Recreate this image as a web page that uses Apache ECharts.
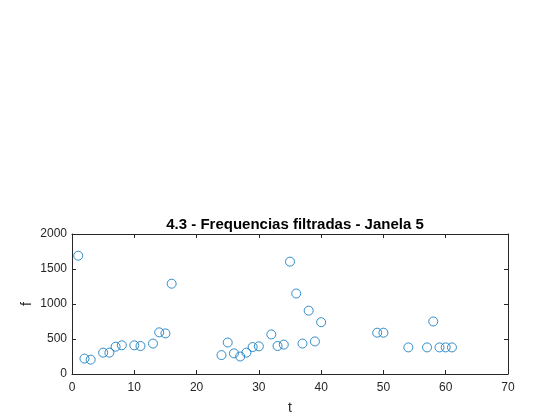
<!DOCTYPE html>
<html>
<head>
<meta charset="utf-8"/>
<title>Frequencias filtradas</title>
<script src="https://cdn.jsdelivr.net/npm/echarts@6/dist/echarts.min.js"></script>
<style>
  html, body { margin: 0; padding: 0; background: #fff; }
  #main { width: 560px; height: 420px; }
</style>
</head>
<body>
<div id="main"></div>
<script type="text/javascript">
// amostras (t) e frequencias filtradas (f)
var tValues = [1, 2, 3, 5, 6, 7, 8, 10, 11, 13, 14, 15, 16,
               24, 25, 26, 27, 28, 29, 30, 32, 33, 34, 35, 36, 37, 38, 39, 40,
               49, 50, 54, 57, 58, 59, 60, 61];
var fValues = [1690, 220, 205, 305, 305, 390, 410, 410, 400, 435, 595, 580, 1290,
               270, 450, 295, 250, 305, 385, 395, 565, 400, 420, 1605, 1150, 435, 905, 465, 740,
               590, 590, 380, 380, 750, 380, 380, 380];
var xTicks = [0, 10, 20, 30, 40, 50, 60, 70];
var yTicks = [0, 500, 1000, 1500, 2000];

var points = tValues.map(function (t, i) { return [t, fValues[i]]; });

var axisColor = '#262626';
var fontFam = 'Liberation Sans, Arial, sans-serif';

function xAx(pos, labels) {
  return {
    type: 'value', position: pos,
    min: xTicks[0], max: xTicks[xTicks.length - 1], interval: 10,
    name: labels ? 't' : '', nameLocation: 'middle', nameGap: 27,
    nameMoveOverlap: false,
    nameTextStyle: { color: axisColor, fontSize: 14, fontFamily: fontFam },
    axisLine: { show: true, onZero: false, lineStyle: { color: axisColor, width: 1 } },
    axisTick: { show: true, inside: true, length: 4, lineStyle: { color: axisColor } },
    axisLabel: { show: labels, color: axisColor, fontSize: 12, fontFamily: fontFam, margin: 8,
                 formatter: function (v) { return String(v); } },
    splitLine: { show: false }
  };
}
function yAx(pos, labels) {
  return {
    type: 'value', position: pos,
    min: yTicks[0], max: yTicks[yTicks.length - 1], interval: 500,
    name: labels ? 'f' : '', nameLocation: 'middle', nameGap: 38,
    nameMoveOverlap: false,
    nameTextStyle: { color: axisColor, fontSize: 14, fontFamily: fontFam },
    axisLine: { show: true, onZero: false, lineStyle: { color: axisColor, width: 1 } },
    axisTick: { show: true, inside: true, length: 4, lineStyle: { color: axisColor } },
    axisLabel: { show: labels, color: axisColor, fontSize: 12, fontFamily: fontFam, margin: 5,
                 formatter: function (v) { return String(v); } },
    splitLine: { show: false }
  };
}

var chart = echarts.init(document.getElementById('main'), null, { renderer: 'canvas' });
var option = {
  backgroundColor: '#ffffff',
  animation: false,
  title: {
    text: '4.3 - Frequencias filtradas - Janela 5',
    left: 290, top: 212, textAlign: 'center',
    textStyle: { color: '#000', fontSize: 15, fontWeight: 'bold', fontFamily: fontFam }
  },
  grid: { left: 72, right: 52, top: 234, bottom: 46 },
  xAxis: [xAx('bottom', true), xAx('top', false)],
  yAxis: [yAx('left', true), yAx('right', false)],
  series: [{
    type: 'scatter',
    xAxisIndex: 0, yAxisIndex: 0,
    data: points,
    symbol: 'circle',
    symbolSize: 9,
    itemStyle: { color: 'rgba(0,0,0,0)', borderColor: '#0072BD', borderWidth: 1 }
  }]
};
chart.setOption(option);
</script>
</body>
</html>
